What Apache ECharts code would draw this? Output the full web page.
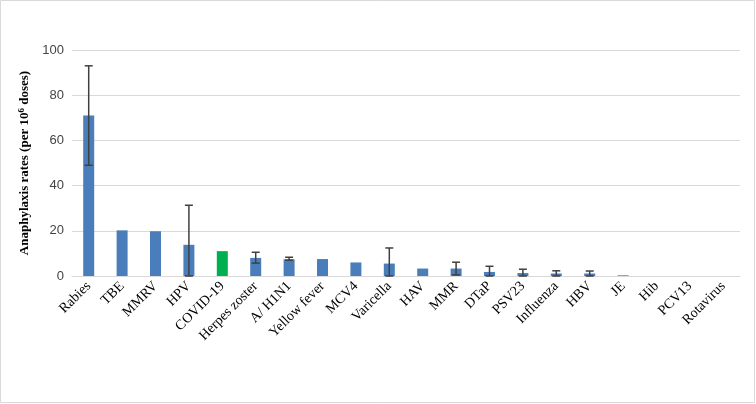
<!DOCTYPE html><html><head><meta charset="utf-8"><script src="https://cdn.jsdelivr.net/npm/echarts@6/dist/echarts.min.js"></script>
<style>body{margin:0}#c{width:756px;height:404px}</style></head><body><div id="c"></div><script>
const categories=['Rabies','TBE','MMRV','HPV','COVID-19','Herpes zoster','A/ H1N1','Yellow fever','MCV4','Varicella','HAV','MMR','DTaP','PSV23','Influenza','HBV','JE','Hib','PCV13','Rotavirus'];
const values=[71,20.2,19.8,13.8,11,8,7.4,7.5,6,5.5,3.3,3.3,1.8,1.3,1.1,1.1,0.3,0,0,0];
const errLow=[49,null,null,0,null,5.7,7,null,null,0,null,0.5,0,0,0,0,null,null,null,null];
const errHigh=[93,null,null,31.3,null,10.5,8.3,null,null,12.4,null,6.1,4.3,3,2.3,2.2,null,null,null,null];
const highlight='COVID-19';
const chart=echarts.init(document.getElementById('c'));
const errData=categories.map((c,i)=>errLow[i]==null?null:[i,errLow[i],errHigh[i]]).filter(d=>d);
chart.setOption({
 animation:false,
 textStyle:{fontFamily:'Liberation Serif'},
 graphic:[{type:'rect',shape:{x:0.5,y:0.5,width:754,height:402},style:{fill:'none',stroke:'#d9d9d9'}}],
 grid:{left:72,right:16,top:50,bottom:128},
 xAxis:{type:'category',data:categories,axisTick:{show:false},axisLine:{lineStyle:{color:'#d9d9d9'}},
  axisLabel:{rotate:45,interval:0,color:'#000',fontSize:14,fontFamily:'Liberation Serif'}},
 yAxis:{type:'value',min:0,max:100,interval:20,axisLabel:{color:'#444',fontSize:13,fontFamily:'Liberation Sans'},
  splitLine:{lineStyle:{color:'#d9d9d9'}},
  name:'{a|Anaphylaxis rates (per 10}{s|6}{a| doses)}',nameLocation:'middle',nameGap:30,
  nameTextStyle:{rich:{a:{fontWeight:'bold',fontSize:13,fontFamily:'Liberation Serif',color:'#000'},s:{fontWeight:'bold',fontSize:9,fontFamily:'Liberation Serif',color:'#000',verticalAlign:'top',padding:[0,0,6,0]}}}},
 series:[{type:'bar',barWidth:11,data:values.map((v,i)=>({value:v,itemStyle:{color:categories[i]===highlight?'#00b050':'#4a7ebb'}}))},
 {type:'custom',data:errData,z:10,renderItem:(p,api)=>{
   const x=api.value(0),lo=api.coord([x,api.value(1)]),hi=api.coord([x,api.value(2)]);const w=4;
   const st={stroke:'#404040',lineWidth:1.5};
   return {type:'group',children:[
    {type:'line',shape:{x1:lo[0],y1:lo[1],x2:hi[0],y2:hi[1]},style:st},
    {type:'line',shape:{x1:lo[0]-w,y1:lo[1],x2:lo[0]+w,y2:lo[1]},style:st},
    {type:'line',shape:{x1:hi[0]-w,y1:hi[1],x2:hi[0]+w,y2:hi[1]},style:st}]};
 }}]
});
</script></body></html>
